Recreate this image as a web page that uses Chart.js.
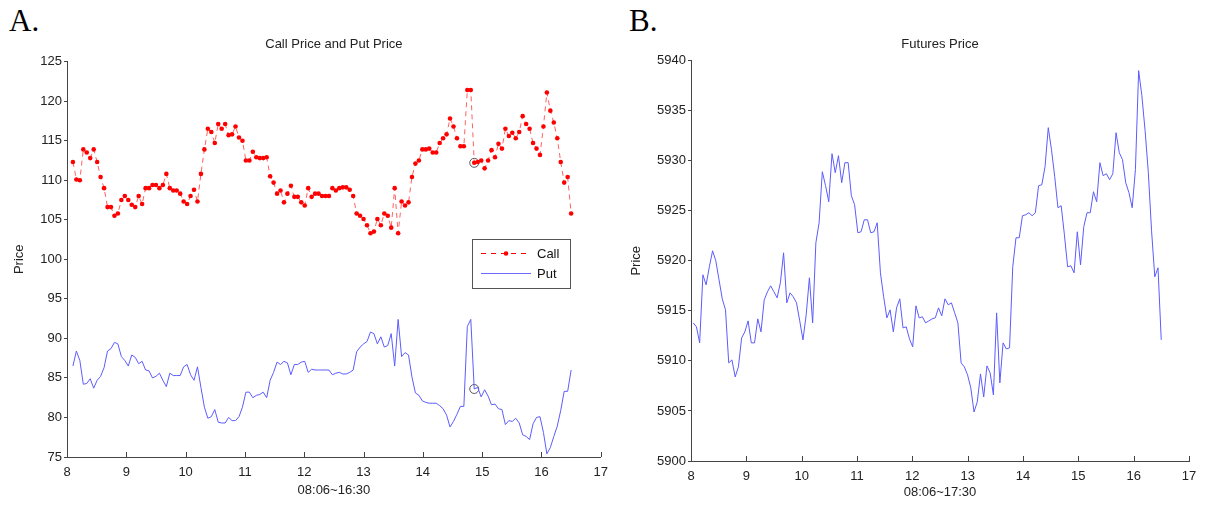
<!DOCTYPE html>
<html>
<head>
<meta charset="utf-8">
<script src="https://cdn.jsdelivr.net/npm/chart.js@4/dist/chart.umd.min.js"></script>
<style>
  body { margin: 0; background: #fff; width: 1208px; height: 506px; position: relative; overflow: hidden; }
  .panel { position: absolute; top: 0; }
  .tag { position: absolute; top: 5px; font-family: 'Liberation Serif', 'Times New Roman', serif; font-size: 31px; line-height: 31px; color: #000; }
</style>
</head>
<body>
<div class="tag" style="left:9px">A.</div>
<div class="tag" style="left:629px">B.</div>
<canvas id="chartOpcoes" class="panel" style="left:0" width="616" height="506"></canvas>
<canvas id="chartFuturo" class="panel" style="left:604px" width="604" height="506"></canvas>
<script>
// precos a cada 3,5 min, 08:06 ate 16:30
const inicio = 8.1;
const passoMin = 3.5;

const call = [
  112.3, 110.1, 110.0, 113.9, 113.5, 112.8, 113.9, 112.3, 110.4, 109.0,
  106.6, 106.6, 105.5, 105.8, 107.5, 108.0, 107.5, 106.9, 106.6, 108.0,
  107.0, 109.0, 109.0, 109.4, 109.4, 109.0, 109.4, 110.8, 109.0, 108.7,
  108.7, 108.3, 107.3, 107.0, 108.0, 108.8, 107.3, 110.8, 113.9, 116.5,
  116.1, 114.7, 117.1, 116.5, 117.1, 115.7, 115.8, 116.8, 115.4, 115.0,
  112.5, 112.5, 113.6, 112.9, 112.8, 112.8, 112.9, 110.5, 109.7, 108.3,
  108.7, 107.2, 108.3, 109.3, 107.9, 107.9, 107.2, 106.8, 109.0, 107.9,
  108.3, 108.3, 108.0, 108.0, 108.0, 109.0, 108.7, 109.0, 109.1, 109.1,
  108.8, 108.0, 105.8, 105.5, 105.1, 104.3, 103.3, 103.5, 105.1, 104.3,
  105.8, 105.5, 104.0, 109.0, 103.3, 107.3, 106.8, 107.2, 110.4, 112.1,
  112.5, 113.9, 113.9, 114.0, 113.5, 113.5, 114.7, 115.3, 115.8, 117.8,
  116.8, 115.3, 114.3, 114.3, 121.4, 121.4, 112.2, 112.3, 112.5, 111.5,
  112.5, 113.8, 112.9, 114.6, 114.0, 116.5, 115.6, 116.0, 115.3, 116.1,
  118.1, 117.1, 116.5, 114.7, 114.0, 113.2, 116.8, 121.1, 118.8, 117.3,
  115.3, 112.3, 109.7, 110.4, 105.8
];

const put = [
  86.5, 88.4, 87.2, 84.2, 84.3, 84.9, 83.7, 84.7, 85.2, 86.3,
  88.4, 88.7, 89.5, 89.3, 87.7, 87.2, 86.5, 87.9, 87.6, 86.8,
  87.1, 86.0, 85.9, 85.0, 85.2, 85.6, 84.7, 83.9, 85.6, 85.3,
  85.3, 85.3, 86.4, 86.7, 85.4, 84.7, 86.4, 83.8, 81.3, 79.9,
  80.1, 81.0, 79.4, 79.3, 79.3, 80.0, 79.6, 79.6, 80.1, 81.3,
  83.2, 83.2, 82.5, 82.8, 82.9, 83.2, 82.5, 84.7, 85.7, 87.0,
  86.7, 87.1, 86.9, 85.4, 86.7, 86.7, 87.0, 87.1, 85.7, 86.1,
  86.0, 86.0, 86.0, 86.0, 86.0, 85.4, 85.6, 85.7, 85.5, 85.5,
  85.7, 86.0, 88.3, 88.9, 89.3, 89.6, 90.8, 90.6, 89.3, 90.2,
  88.9, 89.1, 90.6, 86.5, 92.4, 87.7, 88.2, 87.9, 85.1, 83.1,
  82.8, 82.1, 81.9, 81.8, 81.8, 81.8, 81.5, 81.1, 80.3, 78.8,
  79.5, 80.4, 81.4, 81.4, 91.5, 92.4, 83.6, 83.8, 82.6, 83.5,
  82.7, 81.6, 81.7, 81.1, 81.0, 79.1, 79.6, 79.5, 79.9, 79.3,
  77.8, 77.6, 77.2, 79.2, 80.0, 80.1, 78.1, 75.4, 76.2, 77.6,
  78.9, 80.9, 83.3, 83.3, 86.0
];

// ponto destacado com circulo nas duas series
const destaque = 116;

// futuro comeca um pouco antes
const inicioFut = 8.04;
const futuro = [
  5913.8, 5913.4, 5911.8, 5918.6, 5917.6, 5919.4, 5921.0, 5920.0, 5918.1, 5916.2,
  5915.1, 5909.8, 5910.1, 5908.4, 5909.4, 5912.3, 5912.9, 5914.0, 5911.8, 5911.8,
  5914.2, 5912.9, 5916.1, 5916.9, 5917.5, 5916.9, 5916.3, 5917.8, 5920.8, 5915.8,
  5916.8, 5916.4, 5915.8, 5914.0, 5912.1, 5914.6, 5918.3, 5913.8, 5921.8, 5923.8,
  5928.9, 5927.5, 5925.9, 5930.7, 5928.8, 5930.5, 5927.8, 5929.8, 5929.8, 5926.5,
  5925.6, 5922.8, 5922.9, 5924.1, 5924.1, 5922.8, 5922.9, 5923.8, 5918.8, 5916.4,
  5914.3, 5915.1, 5912.9, 5915.3, 5916.2, 5913.3, 5913.4, 5912.2, 5911.4, 5915.5,
  5914.3, 5914.4, 5913.8, 5914.0, 5914.2, 5914.3, 5915.3, 5914.5, 5916.2, 5915.6,
  5915.8, 5914.8, 5913.8, 5909.8, 5909.4, 5908.6, 5907.3, 5904.9, 5905.9, 5908.7,
  5906.4, 5909.5, 5908.8, 5906.6, 5914.8, 5907.8, 5911.8, 5911.2, 5911.3, 5919.4,
  5922.3, 5922.3, 5924.5, 5924.6, 5924.8, 5924.5, 5924.8, 5927.5, 5927.6, 5929.4,
  5933.3, 5931.1, 5928.4, 5925.3, 5925.5, 5922.6, 5919.4, 5919.5, 5918.8, 5922.9,
  5919.6, 5923.4, 5924.8, 5924.8, 5926.9, 5925.9, 5929.8, 5928.5, 5928.7, 5928.1,
  5928.7, 5932.8, 5930.8, 5930.1, 5927.8, 5926.8, 5925.3, 5929.1, 5939.0, 5936.5,
  5933.0, 5928.8, 5923.0, 5918.4, 5919.3, 5912.1
];

const horas = [8, 9, 10, 11, 12, 13, 14, 15, 16, 17];

const hora = (h0, i) => h0 + i * passoMin / 60;
const pontos = (h0, serie) => serie.map((v, i) => ({ x: hora(h0, i), y: v }));

Chart.defaults.font.family = "'Liberation Sans', Arial, sans-serif";
Chart.defaults.font.size = 13;
Chart.defaults.color = '#222';
Chart.defaults.animation = false;

const corEixo = '#444';

// tracinhos do eixo x para dentro, como no matlab
const ticksDentro = {
  id: 'ticksDentro',
  afterDatasetsDraw(chart) {
    const { ctx, chartArea, scales } = chart;
    ctx.save();
    ctx.strokeStyle = corEixo;
    ctx.lineWidth = 1;
    scales.x.ticks.forEach(t => {
      const px = Math.round(scales.x.getPixelForValue(t.value)) + 0.5;
      ctx.beginPath();
      ctx.moveTo(px, chartArea.bottom);
      ctx.lineTo(px, chartArea.bottom - 5);
      ctx.stroke();
    });
    ctx.restore();
  }
};

const legendaOpcoes = {
  id: 'legendaOpcoes',
  afterDraw(chart) {
    const ctx = chart.ctx;
    ctx.save();
    ctx.fillStyle = '#fff';
    ctx.fillRect(472, 239, 98, 49);
    ctx.strokeStyle = '#555';
    ctx.lineWidth = 1;
    ctx.strokeRect(472.5, 239.5, 98, 49);

    ctx.strokeStyle = '#ff0000';
    ctx.setLineDash([5, 5]);
    ctx.beginPath();
    ctx.moveTo(481, 253.5);
    ctx.lineTo(531, 253.5);
    ctx.stroke();
    ctx.setLineDash([]);
    ctx.fillStyle = '#ff0000';
    ctx.beginPath();
    ctx.arc(506, 253.5, 2.3, 0, Math.PI * 2);
    ctx.fill();

    ctx.strokeStyle = '#6b6bff';
    ctx.lineWidth = 1.2;
    ctx.beginPath();
    ctx.moveTo(481, 273.5);
    ctx.lineTo(531, 273.5);
    ctx.stroke();

    ctx.fillStyle = '#111';
    ctx.font = "13px 'Liberation Sans', Arial, sans-serif";
    ctx.textBaseline = 'middle';
    ctx.fillText('Call', 537, 254);
    ctx.fillText('Put', 537, 274);
    ctx.restore();
  }
};

function eixos(yMin, yMax, yPasso, larguraY, alturaX, tituloX, padTituloY, padTituloX) {
  return {
    x: {
      type: 'linear', min: 8, max: 17,
      afterBuildTicks: s => { s.ticks = horas.map(v => ({ value: v })); },
      afterFit: s => { s.height = alturaX; },
      grid: { display: false, drawTicks: false },
      border: { display: true, color: corEixo },
      ticks: { padding: 8, color: '#222' },
      title: { display: true, text: tituloX, color: '#222', padding: { top: 0, bottom: padTituloX } }
    },
    y: {
      min: yMin, max: yMax,
      afterFit: s => { s.width = larguraY; },
      grid: { drawOnChartArea: false, drawTicks: true, tickLength: 3, color: corEixo },
      border: { display: true, color: corEixo },
      ticks: { stepSize: yPasso, padding: 2, color: '#222', callback: v => String(v) },
      title: { display: true, text: 'Price', color: '#222', padding: { top: padTituloY, bottom: 0 } }
    }
  };
}

function titulo(texto, padBaixo) {
  return {
    display: true, text: texto, fullSize: false, color: '#222',
    font: { size: 13, weight: 'normal' },
    padding: { top: 37, bottom: padBaixo }
  };
}

new Chart(document.getElementById('chartOpcoes'), {
  type: 'line',
  data: {
    datasets: [
      {
        label: 'Call',
        data: pontos(inicio, call),
        borderColor: '#ff5050',
        borderWidth: 0.9,
        borderDash: [5, 4],
        pointRadius: 2.3,
        pointBackgroundColor: '#ff0000',
        pointBorderWidth: 0,
        tension: 0
      },
      {
        label: 'Put',
        data: pontos(inicio, put),
        borderColor: '#5c5cff',
        borderWidth: 1,
        pointRadius: 0,
        tension: 0
      },
      {
        label: 'destaque',
        data: [
          { x: hora(inicio, destaque), y: call[destaque] },
          { x: hora(inicio, destaque), y: put[destaque] }
        ],
        showLine: false,
        pointRadius: 4.5,
        pointBorderColor: '#555',
        pointBorderWidth: 1,
        pointBackgroundColor: 'rgba(0,0,0,0)'
      }
    ]
  },
  options: {
    responsive: false,
    layout: { padding: { left: 0, right: 15, top: 0, bottom: 0 } },
    plugins: {
      legend: { display: false },
      tooltip: { enabled: false },
      title: titulo('Call Price and Put Price', 9)
    },
    scales: eixos(75, 125, 5, 67, 49, '08:06~16:30', 12, 8)
  },
  plugins: [ticksDentro, legendaOpcoes]
});

new Chart(document.getElementById('chartFuturo'), {
  type: 'line',
  data: {
    datasets: [{
      label: 'Futures',
      data: pontos(inicioFut, futuro),
      borderColor: '#5c5cff',
      borderWidth: 1,
      pointRadius: 0,
      tension: 0
    }]
  },
  options: {
    responsive: false,
    layout: { padding: { left: 0, right: 19, top: 0, bottom: 0 } },
    plugins: {
      legend: { display: false },
      tooltip: { enabled: false },
      title: titulo('Futures Price', 8)
    },
    scales: eixos(5900, 5940, 5, 87, 45, '08:06~17:30', 25, 6)
  },
  plugins: [ticksDentro]
});
</script>
</body>
</html>
